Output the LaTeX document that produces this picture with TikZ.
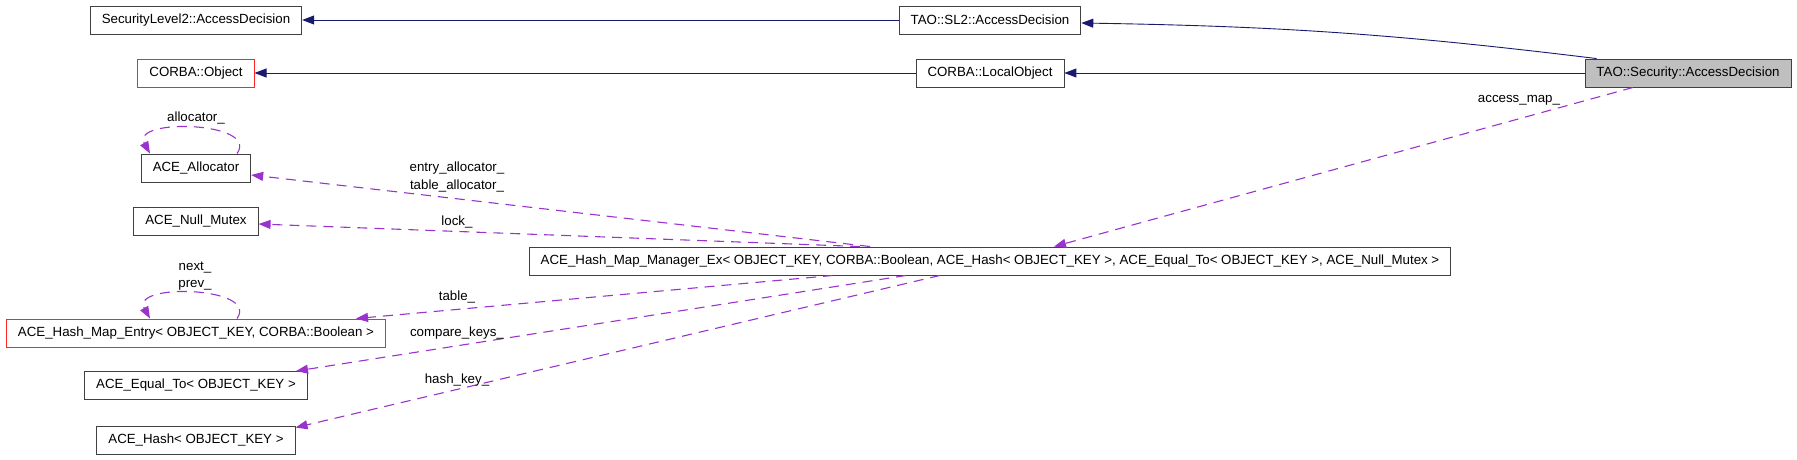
\documentclass[tikz,border=0pt]{standalone}
\usepackage{fontspec}
\setmainfont{Liberation Sans}
\usetikzlibrary{arrows.meta}
\definecolor{inheritblue}{HTML}{191970}
\definecolor{usagepurple}{HTML}{9A32CD}
\definecolor{currentgray}{HTML}{BFBFBF}
\tikzstyle{classbox}=[draw=black!75,line width=0.9pt,fill=white,minimum height=28pt,inner xsep=11.5pt,inner ysep=0pt,font=\fontsize{13.3}{16}\selectfont]
\tikzstyle{redbox}=[classbox,draw=red!85!white]
\tikzstyle{currentbox}=[classbox,fill=currentgray]
\tikzstyle{inherits}=[color=inheritblue,line width=0.9pt,-{Triangle[length=12pt,width=9pt]}]
\tikzstyle{uses}=[color=usagepurple,line width=1.1pt,dash pattern=on 10pt off 7pt,-{Triangle[length=12pt,width=9pt]}]
\tikzstyle{edgelabel}=[inner sep=0pt,align=center,font=\fontsize{13.3}{17.5}\selectfont]

\begin{document}
\begin{tikzpicture}[x=1pt,y=-1pt]
	\useasboundingbox (0,0) rectangle (1797,460);
	% classes
	\node[classbox] (sl2base) at (196,20) {SecurityLevel2::AccessDecision};
	\node[classbox] (taosl2) at (990,20) {TAO::SL2::AccessDecision};
	\node[redbox] (corbaobj) at (196,73) {CORBA::Object};
	\node[classbox] (localobj) at (990,73) {CORBA::LocalObject};
	\node[currentbox] (tsec) at (1688,73) {TAO::Security::AccessDecision};
	\node[classbox] (alloc) at (196,168) {ACE\_Allocator};
	\node[classbox] (mutex) at (196,221) {ACE\_Null\_Mutex};
	\node[classbox] (mgr) at (990,261) {ACE\_Hash\_Map\_Manager\_Ex< OBJECT\_KEY, CORBA::Boolean, ACE\_Hash< OBJECT\_KEY >, ACE\_Equal\_To< OBJECT\_KEY >, ACE\_Null\_Mutex >};
	\node[redbox] (entry) at (196,333) {ACE\_Hash\_Map\_Entry< OBJECT\_KEY, CORBA::Boolean >};
	\node[classbox] (equal) at (196,385.5) {ACE\_Equal\_To< OBJECT\_KEY >};
	\node[classbox] (hash) at (196,440) {ACE\_Hash< OBJECT\_KEY >};
	% inheritance
	\draw[inherits] (taosl2) -- (sl2base);
	\draw[inherits] ([xshift=12pt]tsec.north west) to[bend right=3] ([yshift=-3pt]taosl2.east);
	\draw[inherits] (tsec) -- (localobj);
	\draw[inherits] (localobj) -- (corbaobj);
	% members
	\draw[uses] ([xshift=-55pt]tsec.south) -- ([xshift=64pt]mgr.north);
	\draw[uses] ([xshift=-120pt]mgr.north) -- ([yshift=-7pt]alloc.east);
	\draw[uses] ([xshift=-130pt]mgr.north) -- ([yshift=-3pt]mutex.east);
	\draw[uses] ([xshift=-157pt]mgr.south) -- ([xshift=160pt]entry.north);
	\draw[uses] ([xshift=-84pt]mgr.south) -- ([xshift=100pt]equal.north);
	\draw[uses] ([xshift=-50pt]mgr.south) -- ([yshift=-2pt]hash.north east);
	\draw[uses] ([xshift=41pt]alloc.north) .. controls +(23,-32) and +(-20,-36) .. ([xshift=-46pt]alloc.north); %allocator_
	\draw[uses] ([xshift=41pt]entry.north) .. controls +(23,-32) and +(-20,-36) .. ([xshift=-46pt]entry.north); %next_ prev_
	% labels
	\node[edgelabel] (allocatorlabel) at (196,118) {allocator\_};
	\node[edgelabel] (nextlabel) at (195,276) {next\_\\prev\_};
	\node[edgelabel] (accesslabel) at (1519,100) {access\_map\_};
	\node[edgelabel] (entrylabel) at (457,177) {entry\_allocator\_\\table\_allocator\_};
	\node[edgelabel] (locklabel) at (457,222) {lock\_};
	\node[edgelabel] (tablelabel) at (457,297) {table\_};
	\node[edgelabel] (comparelabel) at (457,333) {compare\_keys\_};
	\node[edgelabel] (hashlabel) at (457,380) {hash\_key\_};
\end{tikzpicture}
\end{document}
